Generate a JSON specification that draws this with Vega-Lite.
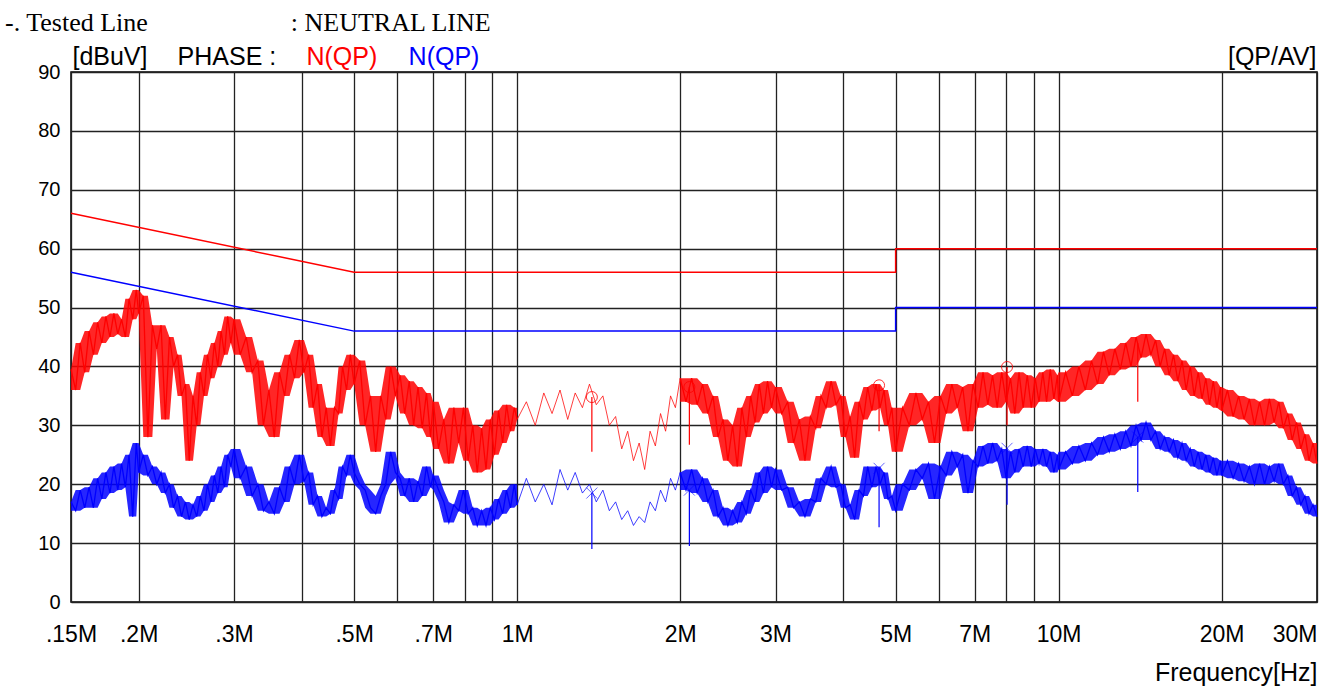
{
  "$schema": "https://vega.github.io/schema/vega-lite/v6.json",
  "autosize": {"type": "none"},
  "width": 1246,
  "height": 530,
  "padding": {"left": 71, "top": 72, "right": 20, "bottom": 84},
  "background": "#ffffff",
  "title": {
    "text": "-. Tested Line\u00a0\u00a0\u00a0\u00a0\u00a0\u00a0\u00a0\u00a0\u00a0\u00a0\u00a0\u00a0\u00a0\u00a0\u00a0\u00a0\u00a0\u00a0\u00a0\u00a0\u00a0\u00a0: NEUTRAL LINE",
    "anchor": "start",
    "frame": "group",
    "font": "Liberation Serif",
    "fontSize": 26,
    "fontWeight": "normal",
    "color": "#000000",
    "baseline": "alphabetic",
    "offset": 9,
    "dx": -66,
    "dy": 22
  },
  "config": {
    "view": {"stroke": "#000000", "strokeWidth": 1.5},
    "font": "Liberation Sans"
  },
  "datasets": {
    "lim": [
      {"s": "QP", "o": 1, "f": 0.15, "v": 66},
      {"s": "QP", "o": 2, "f": 0.5, "v": 56},
      {"s": "QP", "o": 3, "f": 5, "v": 56},
      {"s": "QP", "o": 4, "f": 5, "v": 60},
      {"s": "QP", "o": 5, "f": 30, "v": 60},
      {"s": "AV", "o": 1, "f": 0.15, "v": 56},
      {"s": "AV", "o": 2, "f": 0.5, "v": 46},
      {"s": "AV", "o": 3, "f": 5, "v": 46},
      {"s": "AV", "o": 4, "f": 5, "v": 50},
      {"s": "AV", "o": 5, "f": 30, "v": 50}
    ],
    "rspk": [
      {"f": 1.374, "top": 34.8, "low": 25.5},
      {"f": 2.08, "top": 36.5, "low": 26.7},
      {"f": 4.66, "top": 36.8, "low": 29},
      {"f": 8.03, "top": 39.9, "low": 30},
      {"f": 14.0, "top": 44, "low": 34}
    ],
    "bspk": [
      {"f": 1.374, "top": 18.5, "low": 9},
      {"f": 2.08, "top": 19, "low": 9.5},
      {"f": 4.66, "top": 22.7, "low": 12.7},
      {"f": 8.03, "top": 26.1, "low": 16.5},
      {"f": 14.0, "top": 28, "low": 18.7}
    ],
    "rmk": [
      {"f": 1.374, "v": 34.8},
      {"f": 2.08, "v": 36.5},
      {"f": 4.66, "v": 36.8},
      {"f": 8.03, "v": 39.9}
    ],
    "bmk": [
      {"f": 1.374, "v": 18.5},
      {"f": 2.08, "v": 19},
      {"f": 4.66, "v": 22.7},
      {"f": 8.03, "v": 26.1},
      {"f": 14.0, "v": 28}
    ],
    "tr": [
      {"f": 0.150, "r": 39.5, "b": 17},
      {"f": 0.153, "r": 36, "b": 15.5},
      {"f": 0.156, "r": 44, "b": 19},
      {"f": 0.159, "r": 39, "b": 16},
      {"f": 0.162, "r": 46, "b": 19.5},
      {"f": 0.165, "r": 42, "b": 16},
      {"f": 0.168, "r": 47.5, "b": 21},
      {"f": 0.171, "r": 44, "b": 17.5},
      {"f": 0.174, "r": 48.5, "b": 22},
      {"f": 0.177, "r": 45, "b": 18.5},
      {"f": 0.180, "r": 49, "b": 23},
      {"f": 0.183, "r": 45.5, "b": 19},
      {"f": 0.186, "r": 48, "b": 23.5},
      {"f": 0.189, "r": 45, "b": 19.5},
      {"f": 0.192, "r": 51.5, "b": 25},
      {"f": 0.195, "r": 48, "b": 14.5},
      {"f": 0.198, "r": 53, "b": 27},
      {"f": 0.200, "r": 49, "b": 22},
      {"f": 0.204, "r": 52, "b": 25},
      {"f": 0.208, "r": 28, "b": 21.5},
      {"f": 0.212, "r": 47, "b": 23},
      {"f": 0.216, "r": 43, "b": 20},
      {"f": 0.220, "r": 47, "b": 22},
      {"f": 0.224, "r": 31, "b": 18.5},
      {"f": 0.228, "r": 45, "b": 20},
      {"f": 0.232, "r": 40, "b": 16},
      {"f": 0.236, "r": 42, "b": 18},
      {"f": 0.240, "r": 35, "b": 14.5},
      {"f": 0.244, "r": 37, "b": 17},
      {"f": 0.248, "r": 24, "b": 14},
      {"f": 0.252, "r": 35, "b": 16.5},
      {"f": 0.256, "r": 30, "b": 14.5},
      {"f": 0.260, "r": 39, "b": 18},
      {"f": 0.264, "r": 35, "b": 15.5},
      {"f": 0.268, "r": 42, "b": 20},
      {"f": 0.272, "r": 38, "b": 17},
      {"f": 0.276, "r": 44, "b": 21.5},
      {"f": 0.280, "r": 40, "b": 18.5},
      {"f": 0.284, "r": 46, "b": 23},
      {"f": 0.288, "r": 42, "b": 19.5},
      {"f": 0.292, "r": 48.5, "b": 25},
      {"f": 0.296, "r": 44, "b": 23},
      {"f": 0.300, "r": 48, "b": 26},
      {"f": 0.308, "r": 42, "b": 21},
      {"f": 0.316, "r": 45, "b": 23},
      {"f": 0.324, "r": 39, "b": 18},
      {"f": 0.332, "r": 41, "b": 20},
      {"f": 0.340, "r": 30, "b": 15.5},
      {"f": 0.348, "r": 36, "b": 17},
      {"f": 0.356, "r": 28, "b": 15},
      {"f": 0.364, "r": 39, "b": 19.5},
      {"f": 0.372, "r": 35, "b": 17},
      {"f": 0.380, "r": 42, "b": 23},
      {"f": 0.388, "r": 38, "b": 20},
      {"f": 0.396, "r": 44.5, "b": 25},
      {"f": 0.404, "r": 39, "b": 20.5},
      {"f": 0.412, "r": 42, "b": 22},
      {"f": 0.420, "r": 33, "b": 16.5},
      {"f": 0.428, "r": 37, "b": 18},
      {"f": 0.436, "r": 28, "b": 14.5},
      {"f": 0.444, "r": 33, "b": 16},
      {"f": 0.452, "r": 26.5, "b": 15},
      {"f": 0.460, "r": 33, "b": 19},
      {"f": 0.468, "r": 32, "b": 17.5},
      {"f": 0.476, "r": 40, "b": 23},
      {"f": 0.484, "r": 36, "b": 21.5},
      {"f": 0.492, "r": 42, "b": 25},
      {"f": 0.500, "r": 37, "b": 22},
      {"f": 0.512, "r": 41, "b": 20},
      {"f": 0.524, "r": 30, "b": 19},
      {"f": 0.536, "r": 35, "b": 16},
      {"f": 0.548, "r": 25.5, "b": 15},
      {"f": 0.560, "r": 35, "b": 18},
      {"f": 0.572, "r": 31, "b": 20},
      {"f": 0.584, "r": 40, "b": 25.5},
      {"f": 0.596, "r": 35, "b": 22},
      {"f": 0.608, "r": 38.5, "b": 21},
      {"f": 0.620, "r": 32, "b": 18},
      {"f": 0.632, "r": 37.5, "b": 21},
      {"f": 0.644, "r": 30, "b": 17},
      {"f": 0.656, "r": 36.5, "b": 20.5},
      {"f": 0.668, "r": 29.5, "b": 18},
      {"f": 0.680, "r": 35.5, "b": 23},
      {"f": 0.692, "r": 28, "b": 19.5},
      {"f": 0.700, "r": 34, "b": 21.5},
      {"f": 0.716, "r": 26, "b": 19},
      {"f": 0.732, "r": 31, "b": 17},
      {"f": 0.748, "r": 23.5, "b": 13.5},
      {"f": 0.764, "r": 33, "b": 16.5},
      {"f": 0.780, "r": 27, "b": 15.5},
      {"f": 0.796, "r": 33, "b": 19},
      {"f": 0.812, "r": 24, "b": 15},
      {"f": 0.828, "r": 30, "b": 16},
      {"f": 0.844, "r": 22, "b": 13},
      {"f": 0.860, "r": 29.5, "b": 15.5},
      {"f": 0.876, "r": 22.5, "b": 13},
      {"f": 0.892, "r": 31, "b": 16},
      {"f": 0.908, "r": 25, "b": 14},
      {"f": 0.924, "r": 32.5, "b": 17.5},
      {"f": 0.940, "r": 27, "b": 15},
      {"f": 0.956, "r": 33.5, "b": 19},
      {"f": 0.972, "r": 29, "b": 16},
      {"f": 0.988, "r": 33, "b": 20},
      {"f": 1.00, "r": 31, "b": 16.5},
      {"f": 1.04, "r": 34, "b": 21},
      {"f": 1.08, "r": 30, "b": 17},
      {"f": 1.12, "r": 35.5, "b": 20},
      {"f": 1.16, "r": 32, "b": 16.5},
      {"f": 1.20, "r": 36, "b": 22.5},
      {"f": 1.24, "r": 31, "b": 19},
      {"f": 1.28, "r": 35.5, "b": 22},
      {"f": 1.32, "r": 33, "b": 18.5},
      {"f": 1.36, "r": 37, "b": 20},
      {"f": 1.40, "r": 33.5, "b": 17},
      {"f": 1.44, "r": 35, "b": 19},
      {"f": 1.48, "r": 30, "b": 15.5},
      {"f": 1.52, "r": 31.5, "b": 17},
      {"f": 1.56, "r": 26, "b": 14},
      {"f": 1.60, "r": 29, "b": 15.5},
      {"f": 1.64, "r": 24, "b": 13},
      {"f": 1.68, "r": 27, "b": 14.5},
      {"f": 1.72, "r": 22.5, "b": 13.5},
      {"f": 1.76, "r": 29, "b": 17},
      {"f": 1.80, "r": 26.5, "b": 15.5},
      {"f": 1.84, "r": 32, "b": 19},
      {"f": 1.88, "r": 29, "b": 17},
      {"f": 1.92, "r": 35, "b": 21},
      {"f": 1.96, "r": 33, "b": 19},
      {"f": 2.00, "r": 38, "b": 22},
      {"f": 2.05, "r": 34, "b": 19},
      {"f": 2.10, "r": 38, "b": 22.5},
      {"f": 2.15, "r": 33.5, "b": 18.5},
      {"f": 2.20, "r": 37, "b": 21},
      {"f": 2.25, "r": 32, "b": 17},
      {"f": 2.30, "r": 35, "b": 19},
      {"f": 2.35, "r": 28, "b": 14.5},
      {"f": 2.40, "r": 31, "b": 16},
      {"f": 2.45, "r": 24, "b": 13},
      {"f": 2.50, "r": 30, "b": 15.5},
      {"f": 2.55, "r": 23, "b": 13.5},
      {"f": 2.60, "r": 33, "b": 17},
      {"f": 2.65, "r": 28, "b": 15},
      {"f": 2.70, "r": 35, "b": 19},
      {"f": 2.75, "r": 30.5, "b": 17},
      {"f": 2.80, "r": 37, "b": 22},
      {"f": 2.85, "r": 32, "b": 18.5},
      {"f": 2.90, "r": 37.5, "b": 23},
      {"f": 2.95, "r": 33, "b": 19.5},
      {"f": 3.00, "r": 36.5, "b": 22.5},
      {"f": 3.08, "r": 32, "b": 19},
      {"f": 3.16, "r": 34, "b": 19.5},
      {"f": 3.24, "r": 27, "b": 16},
      {"f": 3.32, "r": 31, "b": 17},
      {"f": 3.40, "r": 24, "b": 14.5},
      {"f": 3.48, "r": 31.5, "b": 17.5},
      {"f": 3.56, "r": 29.5, "b": 17},
      {"f": 3.64, "r": 35, "b": 21},
      {"f": 3.72, "r": 33, "b": 20},
      {"f": 3.80, "r": 37.5, "b": 23},
      {"f": 3.88, "r": 33.5, "b": 19.5},
      {"f": 3.96, "r": 35, "b": 20},
      {"f": 4.04, "r": 28, "b": 16},
      {"f": 4.12, "r": 31.5, "b": 16.5},
      {"f": 4.20, "r": 24.5, "b": 14},
      {"f": 4.28, "r": 34, "b": 19},
      {"f": 4.36, "r": 31, "b": 18},
      {"f": 4.44, "r": 36.5, "b": 23},
      {"f": 4.52, "r": 32.5, "b": 19.5},
      {"f": 4.60, "r": 37, "b": 23},
      {"f": 4.68, "r": 33, "b": 20},
      {"f": 4.76, "r": 36, "b": 22},
      {"f": 4.84, "r": 30, "b": 17.5},
      {"f": 4.92, "r": 33, "b": 18},
      {"f": 5.00, "r": 25.5, "b": 15.5},
      {"f": 5.15, "r": 33, "b": 20},
      {"f": 5.30, "r": 30, "b": 19},
      {"f": 5.45, "r": 35.5, "b": 22.5},
      {"f": 5.60, "r": 31, "b": 21},
      {"f": 5.75, "r": 34, "b": 23.5},
      {"f": 5.90, "r": 27, "b": 17.5},
      {"f": 6.05, "r": 35, "b": 23},
      {"f": 6.20, "r": 32, "b": 21.5},
      {"f": 6.35, "r": 37, "b": 25.5},
      {"f": 6.50, "r": 33, "b": 23},
      {"f": 6.65, "r": 36.5, "b": 25},
      {"f": 6.80, "r": 29, "b": 18.5},
      {"f": 6.95, "r": 37, "b": 24},
      {"f": 7.10, "r": 33, "b": 23},
      {"f": 7.25, "r": 39, "b": 26.5},
      {"f": 7.40, "r": 33.5, "b": 23.5},
      {"f": 7.55, "r": 38.5, "b": 27},
      {"f": 7.70, "r": 33, "b": 24},
      {"f": 7.85, "r": 39, "b": 26},
      {"f": 8.00, "r": 34, "b": 21},
      {"f": 8.15, "r": 38, "b": 25.5},
      {"f": 8.30, "r": 32, "b": 22},
      {"f": 8.45, "r": 39, "b": 26},
      {"f": 8.60, "r": 33, "b": 23},
      {"f": 8.75, "r": 38.5, "b": 26.5},
      {"f": 8.90, "r": 33, "b": 23},
      {"f": 9.05, "r": 38, "b": 26},
      {"f": 9.20, "r": 34, "b": 23.5},
      {"f": 9.35, "r": 39, "b": 26},
      {"f": 9.50, "r": 34, "b": 23},
      {"f": 9.65, "r": 39.5, "b": 25.5},
      {"f": 9.80, "r": 34.5, "b": 22},
      {"f": 9.95, "r": 38.5, "b": 25},
      {"f": 10.0, "r": 34, "b": 22.5},
      {"f": 10.3, "r": 39, "b": 25.5},
      {"f": 10.6, "r": 35, "b": 23.5},
      {"f": 10.9, "r": 40, "b": 26.5},
      {"f": 11.2, "r": 36, "b": 24},
      {"f": 11.5, "r": 41, "b": 27},
      {"f": 11.8, "r": 37, "b": 25},
      {"f": 12.1, "r": 42.5, "b": 28},
      {"f": 12.4, "r": 38.5, "b": 25.5},
      {"f": 12.7, "r": 43, "b": 28.5},
      {"f": 13.0, "r": 39.5, "b": 26},
      {"f": 13.3, "r": 44, "b": 29},
      {"f": 13.6, "r": 40, "b": 26.5},
      {"f": 13.9, "r": 45, "b": 30},
      {"f": 14.2, "r": 41.5, "b": 27.5},
      {"f": 14.5, "r": 45.5, "b": 30.5},
      {"f": 14.8, "r": 42, "b": 27.5},
      {"f": 15.1, "r": 44.5, "b": 29},
      {"f": 15.4, "r": 40, "b": 26},
      {"f": 15.7, "r": 43, "b": 28},
      {"f": 16.0, "r": 38.5, "b": 25.5},
      {"f": 16.3, "r": 42, "b": 27.5},
      {"f": 16.6, "r": 37.5, "b": 24.5},
      {"f": 16.9, "r": 41, "b": 27},
      {"f": 17.2, "r": 36, "b": 24},
      {"f": 17.5, "r": 40, "b": 26},
      {"f": 17.8, "r": 35, "b": 23},
      {"f": 18.1, "r": 39, "b": 25.5},
      {"f": 18.4, "r": 34.5, "b": 22.5},
      {"f": 18.7, "r": 38, "b": 25},
      {"f": 19.0, "r": 33.5, "b": 22},
      {"f": 19.3, "r": 37.5, "b": 24.5},
      {"f": 19.6, "r": 33, "b": 21.5},
      {"f": 19.9, "r": 36.5, "b": 24},
      {"f": 20.0, "r": 32.5, "b": 21.5},
      {"f": 20.5, "r": 36, "b": 24},
      {"f": 21.0, "r": 31.5, "b": 21},
      {"f": 21.5, "r": 35, "b": 23.5},
      {"f": 22.0, "r": 31, "b": 20.5},
      {"f": 22.5, "r": 34.5, "b": 23},
      {"f": 23.0, "r": 30, "b": 20},
      {"f": 23.5, "r": 34, "b": 23.5},
      {"f": 24.0, "r": 30, "b": 20},
      {"f": 24.5, "r": 34.5, "b": 23},
      {"f": 25.0, "r": 30.5, "b": 20.5},
      {"f": 25.5, "r": 34, "b": 23.5},
      {"f": 26.0, "r": 29.5, "b": 20},
      {"f": 26.5, "r": 32, "b": 21.5},
      {"f": 27.0, "r": 27.5, "b": 18},
      {"f": 27.5, "r": 30.5, "b": 19.5},
      {"f": 28.0, "r": 26, "b": 16.5},
      {"f": 28.5, "r": 28.5, "b": 18},
      {"f": 29.0, "r": 24, "b": 15},
      {"f": 29.5, "r": 27, "b": 16.5},
      {"f": 30.0, "r": 23.5, "b": 14.5}
    ]
  },
  "resolve": {"axis": {"x": "independent", "y": "independent"}},
  "layer": [
    {
      "data": {"name": "tr"},
      "transform": [
        {"filter": "datum.f <= 1"},
        {"window": [{"op": "min", "field": "r", "as": "lo"}, {"op": "max", "field": "r", "as": "hi"}], "sort": [{"field": "f"}], "frame": [-1, 1]}
      ],
      "mark": {"type": "area", "color": "#ff0000", "opacity": 0.85},
      "encoding": {
        "x": {
          "field": "f", "type": "quantitative",
          "scale": {"type": "log", "domain": [0.15, 30], "nice": false},
          "axis": {
            "values": [0.15, 0.2, 0.3, 0.4, 0.5, 0.6, 0.7, 0.8, 0.9, 1, 2, 3, 4, 5, 6, 7, 8, 9, 10, 20, 30],
            "labelExpr": "indexof([0.15,0.2,0.3,0.5,0.7,1,2,3,5,7,10,20,30], datum.value) >= 0 ? (datum.value < 1 ? replace(format(datum.value, ''), '0.', '.') : format(datum.value, '')) + 'M' : ''",
            "grid": true, "gridColor": "#222222", "gridWidth": 1.3, "gridOpacity": 1,
            "domain": false, "ticks": false, "tickSize": 0,
            "labelFont": "Liberation Sans", "labelFontSize": 23, "labelColor": "#000000",
            "labelBaseline": "alphabetic", "labelPadding": 39,
            "labelAlign": {"condition": {"test": "datum.value >= 30", "value": "right"}, "value": "center"},
            "labelBound": false, "labelOverlap": false, "labelFlush": false,
            "title": "Frequency[Hz]", "titleAnchor": "end", "titleFont": "Liberation Sans",
            "titleFontSize": 25, "titleFontWeight": "normal", "titleColor": "#000000",
            "titleBaseline": "alphabetic", "titleY": 78
          }
        },
        "y": {
          "field": "lo", "type": "quantitative",
          "scale": {"domain": [0, 90], "nice": false},
          "axis": {
            "values": [0, 10, 20, 30, 40, 50, 60, 70, 80, 90],
            "grid": true, "gridColor": "#222222", "gridWidth": 1.3, "gridOpacity": 1,
            "domain": false, "ticks": false, "tickSize": 0,
            "labelFont": "Liberation Sans", "labelFontSize": 20, "labelColor": "#000000",
            "labelPadding": 11, "labelBaseline": "middle",
            "labelBound": false, "labelOverlap": false, "labelFlush": false,
            "title": null
          }
        },
        "y2": {"field": "hi"}
      }
    },
    {
      "data": {"name": "lim"},
      "mark": {"type": "line", "strokeWidth": 1.5},
      "encoding": {
        "x": {
          "field": "f", "type": "quantitative",
          "scale": {"type": "log", "domain": [0.15, 30], "nice": false},
          "axis": {
            "orient": "top",
            "values": [0.1506, 0.2355, 0.4074, 0.629, 20.5],
            "labelExpr": "datum.value < 0.2 ? '[dBuV]' : datum.value < 0.3 ? 'PHASE :' : datum.value < 1 ? 'N(QP)' : '[QP/AV]'",
            "domain": false, "ticks": false, "tickSize": 0, "grid": false,
            "labelAlign": "left", "labelBaseline": "alphabetic", "labelPadding": 8,
            "labelFont": "Liberation Sans", "labelFontSize": 25,
            "labelBound": false, "labelOverlap": false, "labelFlush": false,
            "labelColor": {
              "condition": [
                {"test": "datum.value > 0.3 && datum.value < 0.5", "value": "#ff0000"},
                {"test": "datum.value > 0.5 && datum.value < 1", "value": "#0000ff"}
              ],
              "value": "#000000"
            },
            "title": null
          }
        },
        "y": {"field": "v", "type": "quantitative", "scale": {"domain": [0, 90], "nice": false}, "axis": null},
        "color": {"field": "s", "type": "nominal", "scale": {"domain": ["QP", "AV"], "range": ["#ff0000", "#0000ff"]}, "legend": null},
        "order": {"field": "o"}
      }
    },
    {
      "data": {"name": "tr"},
      "transform": [{"filter": "datum.f <= 1"}],
      "mark": {"type": "line", "color": "#ff0000", "strokeWidth": 1.3},
      "encoding": {
        "x": {"field": "f", "type": "quantitative", "scale": {"type": "log", "domain": [0.15, 30], "nice": false}, "axis": null},
        "y": {"field": "r", "type": "quantitative", "scale": {"domain": [0, 90], "nice": false}, "axis": null}
      }
    },
    {
      "data": {"name": "tr"},
      "transform": [
        {"filter": "datum.f >= 2"},
        {"window": [{"op": "min", "field": "r", "as": "lo"}, {"op": "max", "field": "r", "as": "hi"}], "sort": [{"field": "f"}], "frame": [-1, 1]}
      ],
      "mark": {"type": "area", "color": "#ff0000", "opacity": 0.85},
      "encoding": {
        "x": {"field": "f", "type": "quantitative", "scale": {"type": "log", "domain": [0.15, 30], "nice": false}, "axis": null},
        "y": {"field": "lo", "type": "quantitative", "scale": {"domain": [0, 90], "nice": false}, "axis": null},
        "y2": {"field": "hi"}
      }
    },
    {
      "data": {"name": "tr"},
      "transform": [{"filter": "datum.f >= 2"}],
      "mark": {"type": "line", "color": "#ff0000", "strokeWidth": 1.3},
      "encoding": {
        "x": {"field": "f", "type": "quantitative", "scale": {"type": "log", "domain": [0.15, 30], "nice": false}, "axis": null},
        "y": {"field": "r", "type": "quantitative", "scale": {"domain": [0, 90], "nice": false}, "axis": null}
      }
    },
    {
      "data": {"name": "tr"},
      "transform": [{"filter": "datum.f >= 1 && datum.f <= 2"}],
      "mark": {"type": "line", "color": "#ff0000", "strokeWidth": 1, "opacity": 0.75},
      "encoding": {
        "x": {"field": "f", "type": "quantitative", "scale": {"type": "log", "domain": [0.15, 30], "nice": false}, "axis": null},
        "y": {"field": "r", "type": "quantitative", "scale": {"domain": [0, 90], "nice": false}, "axis": null}
      }
    },
    {
      "data": {"name": "tr"},
      "transform": [
        {"filter": "datum.f <= 1"},
        {"window": [{"op": "min", "field": "b", "as": "lo"}, {"op": "max", "field": "b", "as": "hi"}], "sort": [{"field": "f"}], "frame": [-1, 1]}
      ],
      "mark": {"type": "area", "color": "#0000ff", "opacity": 0.85},
      "encoding": {
        "x": {"field": "f", "type": "quantitative", "scale": {"type": "log", "domain": [0.15, 30], "nice": false}, "axis": null},
        "y": {"field": "lo", "type": "quantitative", "scale": {"domain": [0, 90], "nice": false}, "axis": null},
        "y2": {"field": "hi"}
      }
    },
    {
      "data": {"name": "tr"},
      "transform": [{"filter": "datum.f <= 1"}],
      "mark": {"type": "line", "color": "#0000ff", "strokeWidth": 1.3},
      "encoding": {
        "x": {"field": "f", "type": "quantitative", "scale": {"type": "log", "domain": [0.15, 30], "nice": false}, "axis": null},
        "y": {"field": "b", "type": "quantitative", "scale": {"domain": [0, 90], "nice": false}, "axis": null}
      }
    },
    {
      "data": {"name": "tr"},
      "transform": [
        {"filter": "datum.f >= 2"},
        {"window": [{"op": "min", "field": "b", "as": "lo"}, {"op": "max", "field": "b", "as": "hi"}], "sort": [{"field": "f"}], "frame": [-1, 1]}
      ],
      "mark": {"type": "area", "color": "#0000ff", "opacity": 0.85},
      "encoding": {
        "x": {"field": "f", "type": "quantitative", "scale": {"type": "log", "domain": [0.15, 30], "nice": false}, "axis": null},
        "y": {"field": "lo", "type": "quantitative", "scale": {"domain": [0, 90], "nice": false}, "axis": null},
        "y2": {"field": "hi"}
      }
    },
    {
      "data": {"name": "tr"},
      "transform": [{"filter": "datum.f >= 2"}],
      "mark": {"type": "line", "color": "#0000ff", "strokeWidth": 1.3},
      "encoding": {
        "x": {"field": "f", "type": "quantitative", "scale": {"type": "log", "domain": [0.15, 30], "nice": false}, "axis": null},
        "y": {"field": "b", "type": "quantitative", "scale": {"domain": [0, 90], "nice": false}, "axis": null}
      }
    },
    {
      "data": {"name": "tr"},
      "transform": [{"filter": "datum.f >= 1 && datum.f <= 2"}],
      "mark": {"type": "line", "color": "#0000ff", "strokeWidth": 1, "opacity": 0.75},
      "encoding": {
        "x": {"field": "f", "type": "quantitative", "scale": {"type": "log", "domain": [0.15, 30], "nice": false}, "axis": null},
        "y": {"field": "b", "type": "quantitative", "scale": {"domain": [0, 90], "nice": false}, "axis": null}
      }
    },
    {
      "data": {"name": "rspk"},
      "mark": {"type": "rule", "color": "#ff0000", "strokeWidth": 1.2},
      "encoding": {
        "x": {"field": "f", "type": "quantitative", "scale": {"type": "log", "domain": [0.15, 30], "nice": false}, "axis": null},
        "y": {"field": "top", "type": "quantitative", "scale": {"domain": [0, 90], "nice": false}, "axis": null},
        "y2": {"field": "low"}
      }
    },
    {
      "data": {"name": "bspk"},
      "mark": {"type": "rule", "color": "#0000ff", "strokeWidth": 1.2},
      "encoding": {
        "x": {"field": "f", "type": "quantitative", "scale": {"type": "log", "domain": [0.15, 30], "nice": false}, "axis": null},
        "y": {"field": "top", "type": "quantitative", "scale": {"domain": [0, 90], "nice": false}, "axis": null},
        "y2": {"field": "low"}
      }
    },
    {
      "data": {"name": "rmk"},
      "mark": {"type": "point", "shape": "circle", "filled": false, "color": "#ff0000", "size": 121, "strokeWidth": 1, "opacity": 0.8},
      "encoding": {
        "x": {"field": "f", "type": "quantitative", "scale": {"type": "log", "domain": [0.15, 30], "nice": false}, "axis": null},
        "y": {"field": "v", "type": "quantitative", "scale": {"domain": [0, 90], "nice": false}, "axis": null}
      }
    },
    {
      "data": {"name": "bmk"},
      "mark": {"type": "point", "shape": "M-1,-1L1,1M-1,1L1,-1", "filled": false, "color": "#0000ff", "size": 121, "strokeWidth": 1, "opacity": 0.6},
      "encoding": {
        "x": {"field": "f", "type": "quantitative", "scale": {"type": "log", "domain": [0.15, 30], "nice": false}, "axis": null},
        "y": {"field": "v", "type": "quantitative", "scale": {"domain": [0, 90], "nice": false}, "axis": null}
      }
    }
  ]
}
